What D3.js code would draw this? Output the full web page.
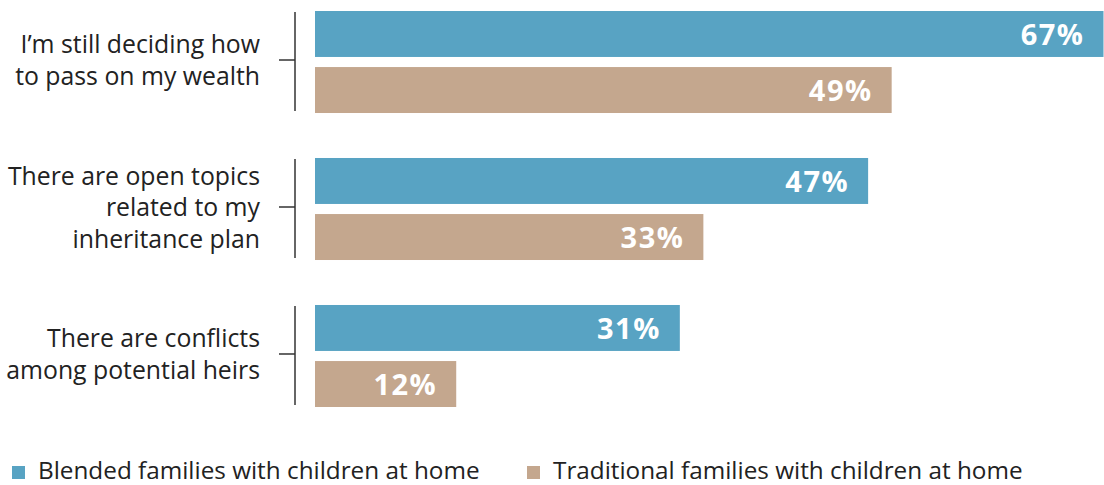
<!DOCTYPE html>
<html><head><meta charset="utf-8">
<script src="https://cdn.jsdelivr.net/npm/d3@7"></script>
<style>
html,body{margin:0;padding:0;background:#fff;}
svg{display:block;font-family:"Open Sans",sans-serif;}
</style></head>
<body><svg id="c" width="1104" height="485"></svg>
<script>
const categories = [
  ["I\u2019m still deciding how", "to pass on my wealth"],
  ["There are open topics", "related to my", "inheritance plan"],
  ["There are conflicts", "among potential heirs"]
];
const seriesNames = ["Blended families with children at home", "Traditional families with children at home"];
const blended = [67, 47, 31];
const traditional = [49, 33, 12];
const colors = ["#58a3c3", "#c4a78e"];

const svg = d3.select("#c");
const catKeys = categories.map((c,i)=>i);
const y0 = d3.scaleBand().domain(catKeys).range([11, 407]).paddingInner(0.306).paddingOuter(0);
const y1 = d3.scaleBand().domain([0,1]).range([0, y0.bandwidth()]).paddingInner(0.18);
const x = d3.scaleLinear().domain([0, 67]).range([315, 1103.5]);

const rows = catKeys.map(i => [blended[i], traditional[i]]);

const g = svg.append("g");
const grp = g.selectAll("g.grp").data(rows).join("g").attr("class","grp")
  .attr("transform",(d,i)=>`translate(0,${y0(i)})`);
grp.selectAll("rect").data(d=>d).join("rect")
  .attr("x", x(0)).attr("y",(d,j)=>y1(j))
  .attr("width", d=>x(d)-x(0)).attr("height", y1.bandwidth())
  .attr("fill",(d,j)=>colors[j]);
grp.selectAll("text.val").data(d=>d).join("text").attr("class","val")
  .attr("x", d=>x(d)-19).attr("y",(d,j)=>y1(j)+y1.bandwidth()/2+11)
  .attr("text-anchor","end").attr("fill","#fff").attr("font-weight","bold")
  .attr("font-size",29).attr("letter-spacing",1.5)
  .text(d=>d+"%");

// axis line with ticks
const axisX = 295;
catKeys.forEach(i=>{
  const top = y0(i)+1, bot = y0(i)+y0.bandwidth()-2;
  const mid = y0(i)+y0.bandwidth()/2-2;
  g.append("line").attr("x1",axisX).attr("x2",axisX).attr("y1",top).attr("y2",bot)
    .attr("stroke","#333").attr("stroke-width",1.5);
  g.append("line").attr("x1",279).attr("x2",axisX).attr("y1",mid).attr("y2",mid)
    .attr("stroke","#333").attr("stroke-width",1.5);
  const lines = categories[i];
  const t = g.append("text").attr("text-anchor","end").attr("fill","#222").attr("font-size",24.8);
  lines.forEach((ln,k)=>{
    t.append("tspan").attr("x",260).attr("y", mid+9+(k-(lines.length-1)/2)*31.5).text(ln);
  });
});

// legend
const leg = svg.append("g");
const legX = [12, 527];
seriesNames.forEach((n,j)=>{
  leg.append("rect").attr("x",legX[j]).attr("y",466).attr("width",13).attr("height",13).attr("fill",colors[j]);
  leg.append("text").attr("x",legX[j]+26).attr("y",479).attr("font-size",24.3).attr("fill","#222").text(n);
});
</script></body></html>
